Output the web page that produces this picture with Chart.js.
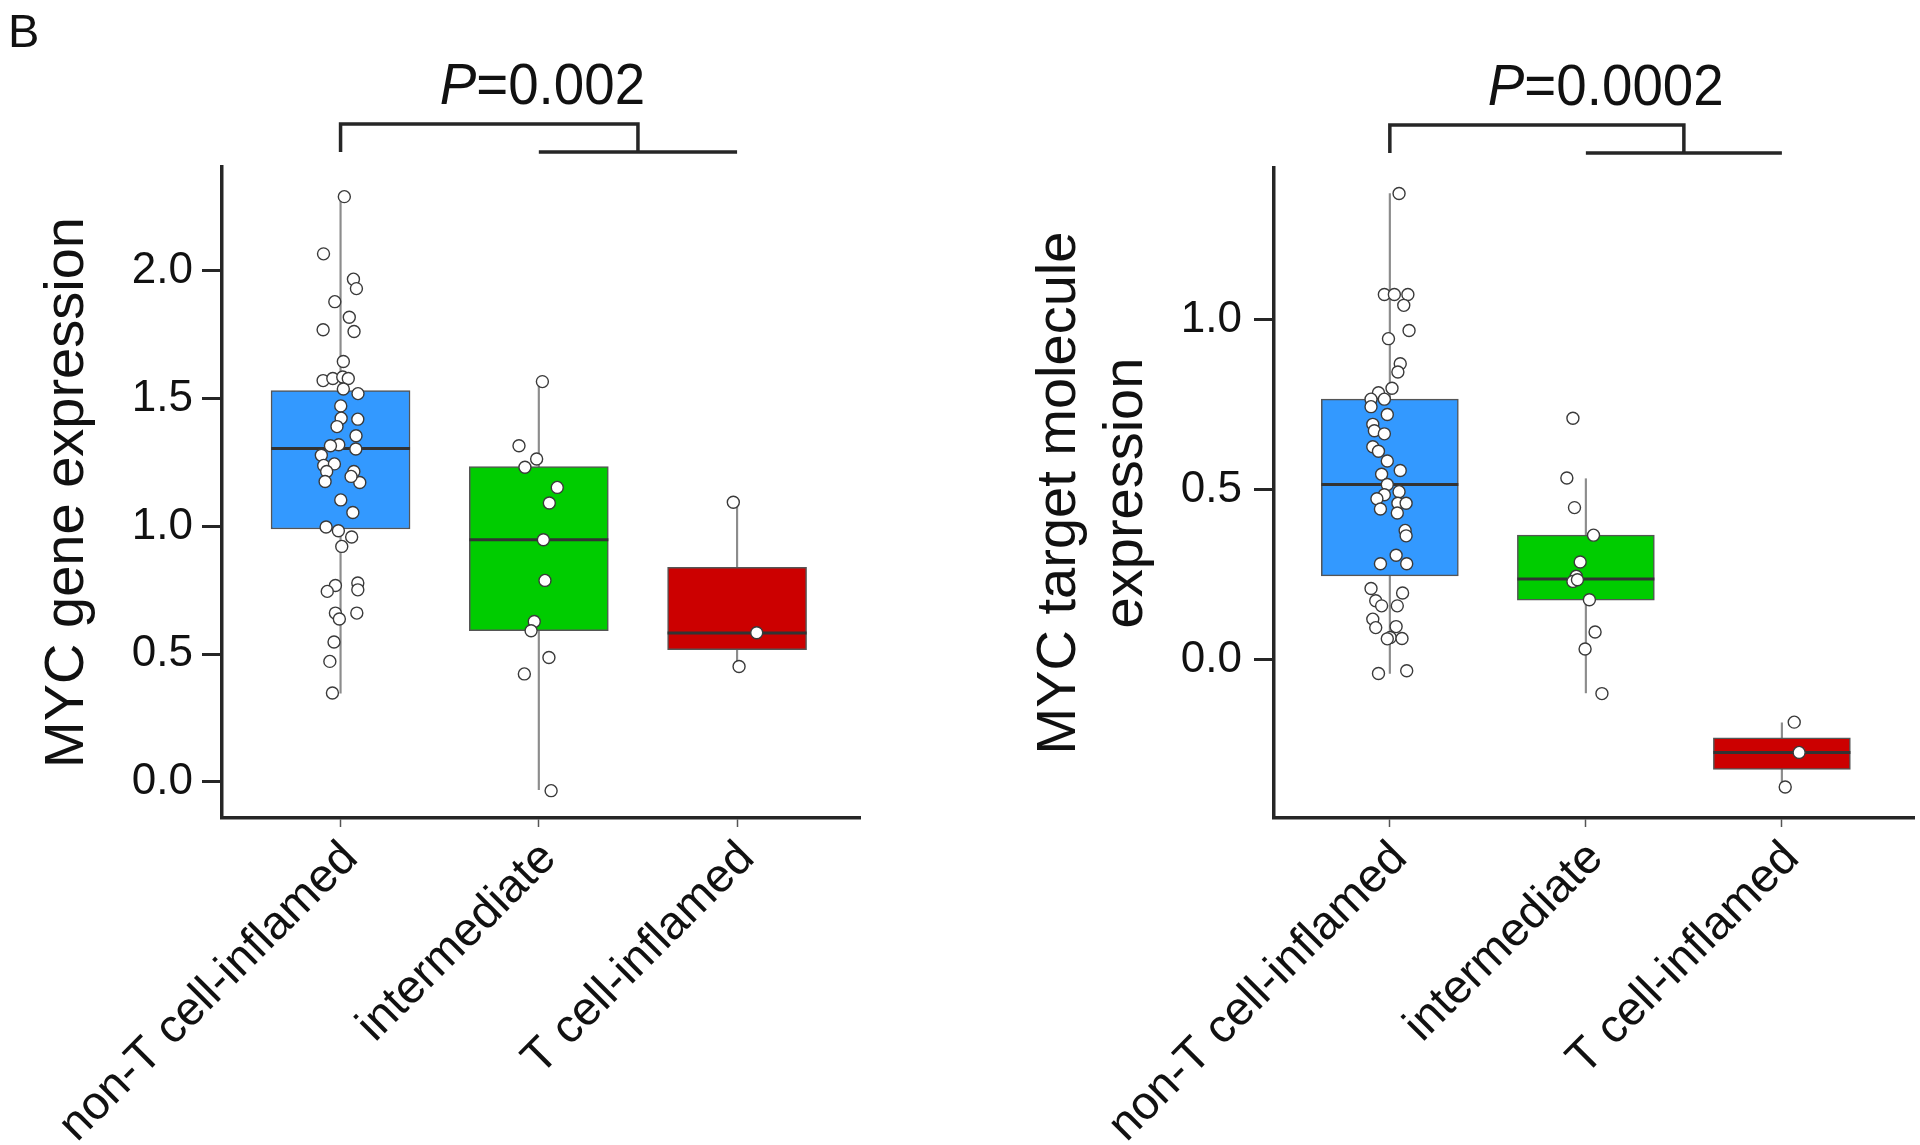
<!DOCTYPE html>
<html>
<head>
<meta charset="utf-8">
<script src="https://cdn.jsdelivr.net/npm/chart.js@4.4.1/dist/chart.umd.min.js"></script>
<style>
  body { margin: 0; background: #fff; width: 1920px; height: 1145px; overflow: hidden; position: relative; }
  canvas { position: absolute; top: 0; }
  #geneChart { left: 0; }
  #targetChart { left: 960px; }
</style>
</head>
<body>
<canvas id="geneChart" width="880" height="1145"></canvas>
<canvas id="targetChart" width="960" height="1145"></canvas>
<script>
const categories = ['non-T cell-inflamed', 'intermediate', 'T cell-inflamed'];
const boxColors = ['#3399ff', '#00cc00', '#cc0000'];

// left panel: MYC gene expression
const geneTicks = [0, 0.5, 1.0, 1.5, 2.0];
const geneQ1 = [0.990, 0.592, 0.518];
const geneMedian = [1.305, 0.948, 0.583];
const geneQ3 = [1.532, 1.234, 0.840];
const geneLow = [0.348, -0.030, 0.452];
const geneHigh = [2.291, 1.567, 1.095];
const genePValue = '0.002';

// points as [jittered x, value]
const geneNonT = [
  [1.019, 2.291], [0.914, 2.067], [1.065, 1.968], [1.080, 1.931], [0.971, 1.880],
  [1.044, 1.819], [0.912, 1.770], [1.068, 1.763], [1.014, 1.646], [0.912, 1.571],
  [0.961, 1.579], [1.011, 1.585], [1.039, 1.579], [1.014, 1.538], [1.088, 1.520],
  [1.001, 1.472], [1.003, 1.424], [1.087, 1.420], [0.982, 1.391], [1.078, 1.355],
  [0.991, 1.320], [0.949, 1.316], [1.077, 1.303], [0.903, 1.279], [0.915, 1.239],
  [0.969, 1.245], [0.930, 1.215], [1.067, 1.215], [0.922, 1.176], [1.097, 1.172],
  [1.053, 1.196], [1.001, 1.104], [1.062, 1.055], [0.927, 0.998], [0.989, 0.983],
  [1.056, 0.959], [1.006, 0.922], [0.974, 0.769], [0.933, 0.746], [1.087, 0.779],
  [1.087, 0.752], [0.974, 0.661], [0.994, 0.638], [1.082, 0.661], [0.967, 0.548],
  [0.946, 0.472], [0.959, 0.348]
];
const geneInter = [
  [2.018, 1.567], [1.900, 1.316], [1.989, 1.264], [1.930, 1.232], [2.093, 1.153],
  [2.053, 1.092], [2.023, 0.948], [2.031, 0.789], [1.977, 0.628], [1.961, 0.592],
  [2.051, 0.487], [1.927, 0.423], [2.062, -0.034]
];
const geneTInfl = [[2.981, 1.095], [3.099, 0.584], [3.010, 0.452]];

// right panel: MYC target molecule expression
const targetTicks = [0, 0.5, 1.0];
const targetQ1 = [0.247, 0.176, -0.322];
const targetMedian = [0.516, 0.238, -0.272];
const targetQ3 = [0.767, 0.367, -0.229];
const targetLow = [-0.040, -0.097, -0.374];
const targetHigh = [1.372, 0.533, -0.185];
const targetPValue = '0.0002';

const targetNonT = [
  [1.047, 1.372], [0.972, 1.075], [1.023, 1.075], [1.092, 1.075], [1.071, 1.043],
  [1.098, 0.969], [0.993, 0.945], [1.053, 0.871], [1.041, 0.847], [1.011, 0.799],
  [0.942, 0.786], [0.904, 0.767], [0.972, 0.767], [0.904, 0.745], [0.987, 0.722],
  [0.913, 0.693], [0.921, 0.674], [0.972, 0.665], [0.913, 0.627], [0.942, 0.614],
  [0.987, 0.585], [1.053, 0.557], [0.958, 0.546], [0.987, 0.516], [1.047, 0.495],
  [0.972, 0.486], [0.934, 0.474], [1.041, 0.461], [1.083, 0.461], [0.952, 0.444],
  [1.038, 0.432], [1.078, 0.381], [1.083, 0.365], [1.032, 0.308], [0.952, 0.283],
  [1.086, 0.283], [0.904, 0.210], [1.065, 0.197], [0.928, 0.174], [0.958, 0.159],
  [1.038, 0.159], [0.913, 0.120], [0.928, 0.095], [1.032, 0.098], [1.002, 0.066],
  [1.062, 0.063], [0.987, 0.062], [0.942, -0.040], [1.086, -0.032]
];
const targetInter = [
  [1.934, 0.711], [1.903, 0.535], [1.942, 0.448], [2.039, 0.367], [1.971, 0.288],
  [1.951, 0.246], [1.934, 0.231], [1.957, 0.236], [2.018, 0.177], [2.047, 0.082],
  [1.996, 0.032], [2.082, -0.099]
];
const targetTInfl = [[3.063, -0.183], [3.088, -0.272], [3.017, -0.374]];

Chart.defaults.font.family = "'Liberation Sans', Arial, Helvetica, sans-serif";
Chart.defaults.color = '#111';

const FONT = "'Liberation Sans', Arial, Helvetica, sans-serif";

// bracket + P value above the plot, and the panel letter
const pBracket = {
  id: 'pBracket',
  afterDraw(chart, args, opts) {
    const { ctx, chartArea } = chart;
    const x = chart.scales.x;
    const x1 = x.getPixelForValue(1);
    const x2 = x.getPixelForValue(2);
    const x3 = x.getPixelForValue(3);
    const xm = x.getPixelForValue(2.5);
    const yHi = chartArea.top - 43;
    const yLo = chartArea.top - 15;
    ctx.save();
    ctx.strokeStyle = '#262626';
    ctx.lineWidth = 3.5;
    ctx.lineJoin = 'miter';
    ctx.beginPath();
    ctx.moveTo(x1, yLo);
    ctx.lineTo(x1, yHi);
    ctx.lineTo(xm, yHi);
    ctx.lineTo(xm, yLo);
    ctx.moveTo(x2, yLo);
    ctx.lineTo(x3, yLo);
    ctx.stroke();

    ctx.fillStyle = '#111';
    ctx.textBaseline = 'alphabetic';
    ctx.textAlign = 'left';
    ctx.translate(x.getPixelForValue(1.5), chartArea.top - 63);
    ctx.scale(0.96, 1);
    ctx.font = 'italic 57px ' + FONT;
    ctx.fillText('P', 0, 0);
    const wP = ctx.measureText('P').width;
    ctx.font = '57px ' + FONT;
    ctx.fillText('=' + opts.p, wP, 0);
    ctx.restore();

    if (opts.letter) {
      ctx.save();
      ctx.fillStyle = '#111';
      ctx.font = '47px ' + FONT;
      ctx.textBaseline = 'alphabetic';
      ctx.fillText(opts.letter, 8, 47);
      ctx.restore();
    }
  }
};

function toPoints(arr) {
  return arr.map(p => ({ x: p[0], y: p[1] }));
}

function buildChart(id, cfg) {
  const idx = categories.map((c, i) => i + 1);
  const datasets = [
    {
      type: 'bar',
      data: idx.map((v, i) => ({ x: v, y: [cfg.low[i], cfg.high[i]] })),
      backgroundColor: '#8c8c8c',
      borderWidth: 0,
      barThickness: 1.5,
      grouped: false,
      order: 3
    },
    {
      type: 'bar',
      data: idx.map((v, i) => ({ x: v, y: [cfg.q1[i], cfg.q3[i]] })),
      backgroundColor: boxColors,
      borderColor: '#555',
      borderWidth: 1.5,
      borderSkipped: false,
      barThickness: cfg.boxWidth,
      grouped: false,
      order: 2
    },
    {
      type: 'scatter',
      data: idx.map((v, i) => ({ x: v, y: cfg.median[i] })),
      pointStyle: 'line',
      radius: cfg.boxWidth / 2,
      borderColor: '#333',
      borderWidth: 3,
      order: 1
    }
  ];
  cfg.groups.forEach(g => {
    datasets.push({
      type: 'scatter',
      data: toPoints(g),
      backgroundColor: '#fff',
      borderColor: '#3a3a3a',
      borderWidth: 1.4,
      radius: 6,
      order: 0
    });
  });

  new Chart(document.getElementById(id), {
    type: 'bar',
    data: { datasets: datasets },
    plugins: [pBracket],
    options: {
      responsive: false,
      devicePixelRatio: 1,
      animation: false,
      layout: {
        autoPadding: false,
        padding: { top: cfg.top, right: cfg.padRight, bottom: 0, left: 0 }
      },
      plugins: {
        legend: { display: false },
        tooltip: { enabled: false },
        pBracket: { p: cfg.p, letter: cfg.letter }
      },
      scales: {
        x: {
          type: 'linear',
          min: cfg.xMin,
          max: cfg.xMax,
          offset: false,
          afterBuildTicks: s => { s.ticks = idx.map(v => ({ value: v })); },
          afterFit: s => { s.height = 1145 - cfg.bottom; },
          ticks: {
            callback: v => categories[Math.round(v) - 1],
            autoSkip: false,
            minRotation: 45,
            maxRotation: 45,
            padding: 4,
            labelOffset: 10,
            color: '#111',
            font: { size: 47 }
          },
          grid: {
            display: true,
            offset: false,
            drawOnChartArea: false,
            drawTicks: true,
            tickLength: 9,
            tickWidth: 1.5,
            tickColor: '#555'
          },
          border: { display: true, width: 3.5, color: '#262626' }
        },
        y: {
          min: cfg.yMin,
          max: cfg.yMax,
          afterBuildTicks: s => { s.ticks = cfg.ticks.map(v => ({ value: v })); },
          afterFit: s => { s.width = cfg.axisWidth; },
          ticks: {
            callback: v => v.toFixed(1),
            padding: cfg.tickPad,
            color: '#111',
            font: { size: 44 }
          },
          grid: {
            display: true,
            drawOnChartArea: false,
            drawTicks: true,
            tickLength: 20,
            tickWidth: 3,
            tickColor: '#262626'
          },
          border: { display: true, width: 3.5, color: '#262626' },
          title: {
            display: true,
            text: cfg.title,
            color: '#111',
            font: { size: 56 },
            padding: { top: cfg.titlePad, bottom: 0 }
          }
        }
      }
    }
  });
}

buildChart('geneChart', {
  q1: geneQ1, median: geneMedian, q3: geneQ3, low: geneLow, high: geneHigh,
  groups: [geneNonT, geneInter, geneTInfl],
  ticks: geneTicks, p: genePValue, letter: 'B',
  title: 'MYC gene expression',
  yMin: -0.141, yMax: 2.407, xMin: 0.402, xMax: 3.62,
  boxWidth: 139, top: 167, bottom: 818, padRight: 20, axisWidth: 222,
  tickPad: 9, titlePad: 34
});

buildChart('targetChart', {
  q1: targetQ1, median: targetMedian, q3: targetQ3, low: targetLow, high: targetHigh,
  groups: [targetNonT, targetInter, targetTInfl],
  ticks: targetTicks, p: targetPValue, letter: null,
  title: ['MYC target molecule', 'expression'],
  yMin: -0.465, yMax: 1.447, xMin: 0.409, xMax: 3.674,
  boxWidth: 137, top: 168, bottom: 818, padRight: 6, axisWidth: 314,
  tickPad: 12, titlePad: 66
});
</script>
</body>
</html>
